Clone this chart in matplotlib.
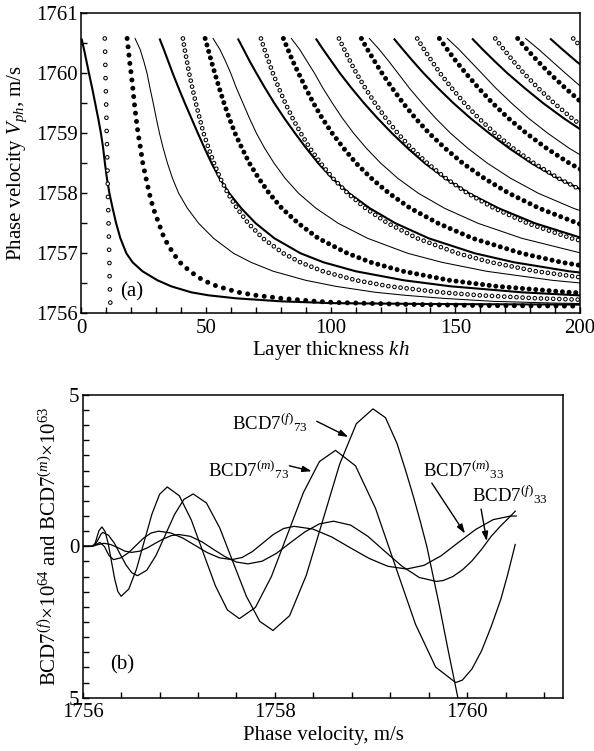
import matplotlib
matplotlib.use('Agg')
import matplotlib.pyplot as plt
from matplotlib.ticker import MultipleLocator, FixedLocator, FixedFormatter

plt.rcParams['font.family'] = ['Liberation Serif', 'DejaVu Serif']
plt.rcParams['mathtext.fontset'] = 'custom'
plt.rcParams['mathtext.rm'] = 'Liberation Serif'
plt.rcParams['mathtext.it'] = 'Liberation Serif:italic'
plt.rcParams['mathtext.bf'] = 'Liberation Serif:bold'
plt.rcParams['lines.scale_dashes'] = False

# ---------------- Panel (a) data: layer thickness kh at each phase velocity level ----------------
V_LEVELS = [1760.58, 1760.4, 1760.2, 1760.0, 1759.75, 1759.5, 1759.25, 1759.0, 1758.75, 1758.5,
            1758.25, 1758.0, 1757.75, 1757.5, 1757.25, 1757.0, 1756.85, 1756.7, 1756.55, 1756.45,
            1756.35, 1756.3, 1756.25, 1756.2]

THICK_KH = [
    [0, 1.0, 2.0, 3.0, 4.3, 5.5, 6.7, 7.8, 8.7, 9.4, 10.2, 11.2, 12.5, 13.9, 15.6, 18.0, 20.5, 24.5, 30.5, 36, 44, 51, 62, 80],
    [31.3, 33.0, 34.8, 36.6, 39.0, 41.5, 44.1, 46.7, 49.4, 52.2, 55.4, 59.3, 64.1, 69.9, 77.4, 87.9, 97.1, 110.1, 129.4, 148.1, 176.6, 199.3, 233.2],
    [62.7, 65.0, 67.5, 70.2, 73.7, 77.4, 81.4, 85.7, 90.2, 95.0, 100.6, 107.4, 115.7, 126.0, 139.3, 157.8, 173.6, 195.7, 228.2],
    [94.0, 96.9, 100.3, 103.7, 108.4, 113.4, 118.8, 124.6, 130.9, 137.8, 145.9, 155.5, 167.4, 182.0, 201.1],
    [125.3, 128.9, 133.0, 137.3, 143.1, 149.3, 156.1, 163.6, 171.6, 180.6, 191.1, 203.6],
    [156.7, 160.9, 165.8, 170.9, 177.9, 185.3, 193.5, 202.5],
    [188.0, 192.9, 198.5, 204.5],
]
THICK0_TAIL_V = [1756.17, 1756.155, 1756.145]
THICK0_TAIL_KH = [100, 140, 200]

THIN_KH = [
    [21.5, 23.5, 25.0, 26.3, 27.5, 28.8, 30.0, 31.3, 32.8, 34.5, 36.5, 39.0, 42.5, 47.0, 53, 61, 68, 77, 90, 102, 118, 130, 145, 165],
    [52.8, 55.5, 57.8, 59.9, 62.2, 64.8, 67.4, 70.2, 73.5, 77.3, 81.7, 87.1, 94.1, 103.0, 114.8, 130.9, 144.6, 162.6, 188.9, 214.1],
    [84.2, 87.5, 90.5, 93.5, 96.9, 100.7, 104.7, 109.2, 114.3, 120.1, 126.9, 135.2, 145.7, 159.1, 176.7, 200.8],
    [115.5, 119.4, 123.3, 127.0, 131.6, 136.7, 142.1, 148.1, 155.0, 162.9, 172.2, 183.3, 197.4, 215.1],
    [146.8, 151.4, 156.0, 160.6, 166.3, 172.6, 179.4, 187.1, 195.7, 205.7],
    [178.2, 183.4, 188.8, 194.2, 201.1],
]
THIN0_TAIL_V = [1756.17, 1756.16]
THIN0_TAIL_KH = [190, 205]

FILLED_KH = [
    [18.3, 18.8, 19.3, 19.9, 20.6, 21.2, 21.9, 22.7, 23.7, 24.6, 25.9, 27.2, 28.8, 31.0, 33.2, 36.8, 39.5, 43.5, 48.8, 54.5, 63, 70, 80, 94],
    [49.6, 50.8, 52.1, 53.5, 55.3, 57.2, 59.3, 61.6, 64.4, 67.4, 71.1, 75.3, 80.4, 87.0, 95.0, 106.7, 116.1, 129.1, 147.7, 166.6, 195.6, 218.3],
    [81.0, 82.8, 84.8, 87.1, 90.0, 93.1, 96.6, 100.6, 105.2, 110.2, 116.3, 123.4, 132.0, 143.1, 156.9, 176.6, 192.6, 214.7],
    [112.3, 114.7, 117.6, 120.6, 124.7, 129.1, 134.0, 139.5, 145.9, 153.0, 161.6, 171.5, 183.7, 199.1, 218.7],
    [143.6, 146.7, 150.3, 154.2, 159.4, 165.0, 171.3, 178.5, 186.6, 195.8, 206.8],
    [175.0, 178.7, 183.1, 187.8, 194.2, 201.0],
]
FILLED0_TAIL_V = [1756.18, 1756.15, 1756.13, 1756.12]
FILLED0_TAIL_KH = [102, 130, 160, 200]

OPEN_KH = [
    [9.35, 9.45, 9.55, 9.6, 9.75, 9.9, 10.0, 10.1, 10.25, 10.4, 10.5, 10.6, 10.75, 10.85, 11.0, 11.1, 11.2, 11.25, 11.3, 11.35, 11.4, 11.45, 11.5, 11.5],
    [40.7, 41.4, 42.3, 43.2, 44.5, 45.9, 47.4, 49.0, 51.0, 53.2, 55.7, 58.7, 62.4, 66.9, 72.8, 81.0, 87.8, 96.9, 110.2, 123.5, 144.0, 159.8, 182.7, 221.2],
    [72.0, 73.4, 75.1, 76.8, 79.2, 81.8, 84.7, 88.0, 91.7, 96.0, 100.9, 106.8, 114.0, 122.9, 134.7, 150.9, 164.3, 182.5, 209.0],
    [103.3, 105.4, 107.8, 110.3, 113.9, 117.8, 122.1, 126.9, 132.4, 138.8, 146.2, 154.9, 165.6, 179.0, 196.5, 220.8],
    [134.7, 137.4, 140.6, 143.9, 148.6, 153.7, 159.4, 165.9, 173.2, 181.6, 191.4, 203.0],
    [166.0, 169.4, 173.3, 177.5, 183.3, 189.7, 196.8, 204.8],
    [197.3, 201.3],
]
OPEN0_TAIL_V = [1756.16]
OPEN0_TAIL_KH = [11.6]

# ---------------- Panel (b) data ----------------
V_M73 = [1756.0, 1756.10, 1756.13, 1756.15, 1756.17, 1756.20, 1756.233, 1756.267, 1756.30, 1756.333, 1756.367,
         1756.40, 1756.48, 1756.56, 1756.64, 1756.72, 1756.80, 1756.88, 1757.005, 1757.13, 1757.255, 1757.38,
         1757.505, 1757.63, 1757.797, 1757.963, 1758.13, 1758.297, 1758.463, 1758.63, 1758.838, 1759.047,
         1759.255, 1759.463, 1759.672, 1759.88, 1759.95, 1760.05, 1760.15, 1760.25, 1760.35, 1760.42, 1760.5]
VAL_M73 = [0, 0, 0.10, 0.32, 0.52, 0.64, 0.49, 0.07, -0.51, -1.08, -1.50,
           -1.65, -1.41, -0.75, 0.16, 1.06, 1.72, 1.96, 1.67, 0.87, -0.22, -1.30,
           -2.10, -2.39, -2.02, -1.0, 0.39, 1.78, 2.80, 3.17, 2.66, 1.25,
           -0.67, -2.58, -3.99, -4.5, -4.42, -4.05, -3.45, -2.65, -1.75, -0.95, 0.06]

V_F73 = [1756.0, 1756.10, 1756.13, 1756.16, 1756.19, 1756.21, 1756.27, 1756.33, 1756.39, 1756.45, 1756.51,
         1756.57, 1756.667, 1756.763, 1756.86, 1756.957, 1757.053, 1757.15, 1757.288, 1757.427, 1757.565,
         1757.703, 1757.842, 1757.98, 1758.153, 1758.327, 1758.50, 1758.673, 1758.847, 1759.02, 1759.15,
         1759.27, 1759.36, 1759.44, 1759.51, 1759.58, 1759.64, 1759.71, 1759.8, 1759.9, 1760.0, 1760.1]
VAL_F73 = [0, 0, 0.06, 0.22, 0.40, 0.46, 0.36, 0.10, -0.26, -0.61, -0.87,
           -0.97, -0.79, -0.30, 0.38, 1.06, 1.55, 1.73, 1.43, 0.60, -0.53,
           -1.65, -2.48, -2.78, -2.29, -0.95, 0.88, 2.71, 4.05, 4.54, 4.25,
           3.4, 2.5, 1.65, 0.85, 0.0, -0.9, -1.95, -3.4, -4.95, -6.4, -7.6]

V_M33 = [1756.0, 1756.10, 1756.14, 1756.18, 1756.227, 1756.273, 1756.32, 1756.398, 1756.477, 1756.555,
         1756.633, 1756.712, 1756.79, 1756.917, 1757.043, 1757.17, 1757.297, 1757.423, 1757.55, 1757.658,
         1757.767, 1757.875, 1757.983, 1758.092, 1758.2, 1758.395, 1758.59, 1758.785, 1758.98, 1759.175,
         1759.37, 1759.55, 1759.73, 1759.91, 1760.09, 1760.27, 1760.45, 1760.51]
VAL_M33 = [0, 0, 0.06, 0.13, -0.01, -0.30, -0.44, -0.38, -0.21, 0.03,
           0.27, 0.44, 0.50, 0.44, 0.27, 0.03, -0.21, -0.38, -0.44, -0.37,
           -0.17, 0.11, 0.39, 0.59, 0.66, 0.57, 0.31, -0.05, -0.40, -0.66,
           -0.75, -0.63, -0.31, 0.13, 0.56, 0.88, 1.0, 1.0]

V_F33 = [1756.0, 1756.10, 1756.15, 1756.22, 1756.29, 1756.37, 1756.44, 1756.51, 1756.592, 1756.673,
         1756.755, 1756.837, 1756.918, 1757.0, 1757.12, 1757.24, 1757.36, 1757.48, 1757.60, 1757.72,
         1757.868, 1758.017, 1758.165, 1758.313, 1758.462, 1758.61, 1758.788, 1758.967, 1759.145, 1759.323,
         1759.502, 1759.68, 1759.75, 1759.85, 1759.95, 1760.05, 1760.15, 1760.25, 1760.35, 1760.43, 1760.5]
VAL_F33 = [0, 0, 0.05, 0.10, 0.06, -0.05, -0.16, -0.20, -0.16, -0.05,
           0.10, 0.24, 0.35, 0.39, 0.33, 0.15, -0.10, -0.34, -0.52, -0.58,
           -0.49, -0.23, 0.13, 0.48, 0.74, 0.83, 0.70, 0.33, -0.17, -0.66,
           -1.03, -1.16, -1.13, -1.0, -0.78, -0.48, -0.10, 0.33, 0.68, 0.93, 1.16]

# labels (text, x, y) and arrows (tail, tip)
B_LABELS = [
    (r"BCD7$^{(\mathit{f})}{}_{73}$", 1757.554, 3.85),
    (r"BCD7$^{(\mathit{m})}{}_{73}$", 1757.307, 2.31),
    (r"BCD7$^{(\mathit{m})}{}_{33}$", 1759.544, 2.31),
    (r"BCD7$^{(\mathit{f})}{}_{33}$", 1760.048, 1.49),
]
B_ARROWS = [
    ((1758.435, 4.13), (1758.764, 3.61)),
    ((1758.150, 2.66), (1758.383, 2.48)),
    ((1759.632, 2.09), (1759.978, 0.42)),
    ((1760.145, 1.23), (1760.204, 0.17)),
]

FS = 15.0

fig = plt.figure(figsize=(5.94, 7.51), dpi=100)

# ================= Panel (a) =================
ax1 = fig.add_axes([0.1372, 0.5828, 0.8392, 0.3995])
ax1.set_xlim(0, 200)
ax1.set_ylim(1756, 1761)


def curve(kh, tail_v=None, tail_kh=None):
    v = list(V_LEVELS[:len(kh)])
    k = list(kh)
    if tail_v:
        v += tail_v
        k += tail_kh
    return k, v


def dots(ax, x, y, spacing, d_outer, d_inner=None):
    ax.plot(x, y, color='k', lw=d_outer, ls=(0, (0.01, spacing)),
            dash_capstyle='round', zorder=3)
    if d_inner:
        ax.plot(x, y, color='w', lw=d_inner, ls=(0, (0.01, spacing)),
                dash_capstyle='round', zorder=4)


for i, kh in enumerate(THICK_KH):
    x, y = curve(kh, THICK0_TAIL_V if i == 0 else None, THICK0_TAIL_KH if i == 0 else None)
    ax1.plot(x, y, color='k', lw=1.5, zorder=2, solid_capstyle='butt')

for i, kh in enumerate(THIN_KH):
    x, y = curve(kh, THIN0_TAIL_V if i == 0 else None, THIN0_TAIL_KH if i == 0 else None)
    ax1.plot(x, y, color='k', lw=0.75, zorder=2)

for i, kh in enumerate(FILLED_KH):
    x, y = curve(kh, FILLED0_TAIL_V if i == 0 else None, FILLED0_TAIL_KH if i == 0 else None)
    dots(ax1, x, y, 6.0 if i == 0 else 4.8, 3.6)

for i, kh in enumerate(OPEN_KH):
    x, y = curve(kh, OPEN0_TAIL_V if i == 0 else None, OPEN0_TAIL_KH if i == 0 else None)
    dots(ax1, x, y, 9.5 if i == 0 else 4.4, 3.4, 1.9)

ax1.xaxis.set_major_locator(MultipleLocator(50))
ax1.xaxis.set_minor_locator(MultipleLocator(10))
ax1.yaxis.set_major_locator(MultipleLocator(1))
ax1.yaxis.set_minor_locator(MultipleLocator(0.5))
ax1.tick_params(which='both', direction='in', top=False, right=False, length=4, width=1.0)
ax1.tick_params(axis='x', which='major', labelsize=FS, pad=4)
ax1.tick_params(axis='y', which='major', labelsize=FS, pad=2.5)
for s in ax1.spines.values():
    s.set_linewidth(1.1)
ax1.set_xlabel(r"Layer thickness $kh$", fontsize=FS, labelpad=0.5)
ax1.set_ylabel(r"Phase velocity $V_{ph}$, m/s", fontsize=FS)
ax1.yaxis.set_label_coords(-0.105, 0.5)
ax1.text(15.4, 1756.35, "(a)", fontsize=FS, ha='left', va='center', zorder=6)

# ================= Panel (b) =================
ax2 = fig.add_axes([0.1392, 0.0710, 0.8091, 0.4031])
ax2.set_xlim(1756, 1761)
ax2.set_ylim(-5, 5)
for vx, vy in [(V_F73, VAL_F73), (V_M73, VAL_M73), (V_M33, VAL_M33), (V_F33, VAL_F33)]:
    ax2.plot(vx, vy, color='k', lw=0.9)

for txt, tx, ty in B_LABELS:
    ax2.text(tx, ty, txt, fontsize=13.5, ha='left', va='baseline')
for tail, tip in B_ARROWS:
    ax2.annotate('', xy=tip, xytext=tail,
                 arrowprops=dict(arrowstyle='-|>,head_length=0.55,head_width=0.18',
                                 lw=1.0, color='k', shrinkA=0, shrinkB=0))

ax2.xaxis.set_major_locator(FixedLocator([1756, 1758, 1760]))
ax2.xaxis.set_minor_locator(MultipleLocator(0.4))
ax2.yaxis.set_major_locator(FixedLocator([-5, 0, 5]))
ax2.yaxis.set_major_formatter(FixedFormatter(['5', '0', '5']))
ax2.yaxis.set_minor_locator(MultipleLocator(0.5))
ax2.tick_params(which='both', direction='in', top=False, right=False, length=4, width=1.0)
ax2.tick_params(axis='x', which='major', labelsize=FS, pad=4)
ax2.tick_params(axis='y', which='major', labelsize=FS, pad=2.5)
for s in ax2.spines.values():
    s.set_linewidth(1.1)
ax2.set_xlabel("Phase velocity, m/s", fontsize=FS, labelpad=3)
ax2.set_ylabel(r"BCD7$^{(\mathit{f})}$$\times$10$^{64}$ and BCD7$^{(\mathit{m})}$$\times$10$^{63}$", fontsize=FS)
ax2.yaxis.set_label_coords(-0.044, 0.5)
ax2.text(1756.285, -3.9, "(b)", fontsize=FS, ha='left', va='center')

fig.savefig("out.png", dpi=100)
